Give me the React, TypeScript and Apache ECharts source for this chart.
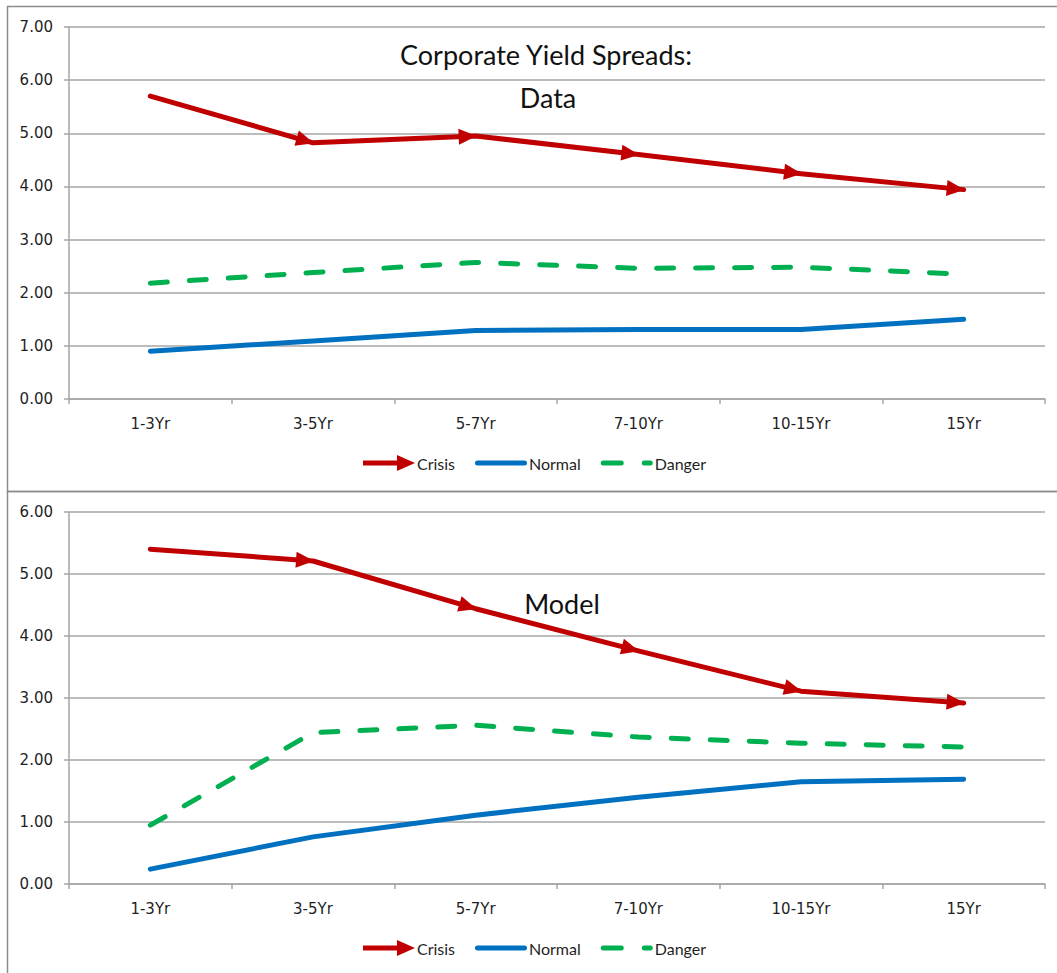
import React, { useEffect, useRef } from "react";
import * as echarts from "echarts";

// Maturity buckets shared by both panels
const categories = ["1-3Yr", "3-5Yr", "5-7Yr", "7-10Yr", "10-15Yr", "15Yr"];

// Observed spreads (upper panel)
const dataCrisis = [5.7, 4.82, 4.95, 4.6, 4.24, 3.94];
const dataNormal = [0.9, 1.09, 1.29, 1.31, 1.31, 1.5];
const dataDanger = [2.18, 2.38, 2.57, 2.46, 2.48, 2.35];

// Model spreads (lower panel)
const modelCrisis = [5.4, 5.21, 4.44, 3.76, 3.11, 2.92];
const modelNormal = [0.24, 0.76, 1.11, 1.4, 1.65, 1.69];
const modelDanger = [0.95, 2.44, 2.56, 2.37, 2.27, 2.21];

const dataAxisMax = 7;
const modelAxisMax = 6;

const RED = "#C00000";
const BLUE = "#0070C0";
const GREEN = "#00B050";
const GRID_GREY = "#A6A6A6";
const TEXT = "#1f1f1f";

// Legend glyphs drawn in a 52x16 box
const arrowIcon = "path://M0,5.5L34,5.5L34,0L52,8L34,16L34,10.5L0,10.5Z";
const barIcon =
  "path://M2.5,5.5L49.5,5.5A2.5,2.5 0 0 1 49.5,10.5L2.5,10.5A2.5,2.5 0 0 1 2.5,5.5Z" +
  "M0,0L0.01,0ZM52,16L51.99,16Z";
const dashIcon =
  "path://M2.5,5.5L20.5,5.5A2.5,2.5 0 0 1 20.5,10.5L2.5,10.5A2.5,2.5 0 0 1 2.5,5.5Z" +
  "M43.5,5.5L49.5,5.5A2.5,2.5 0 0 1 49.5,10.5L43.5,10.5A2.5,2.5 0 0 1 43.5,5.5Z" +
  "M0,0L0.01,0ZM52,16L51.99,16Z";

const ARROW_W = 16;
const ARROW_L = 18;

function crisisSeries(values: number[], idx: number) {
  return {
    name: "Crisis",
    type: "line",
    xAxisIndex: idx,
    yAxisIndex: idx,
    data: values,
    symbol: "none",
    showAllSymbol: true,
    lineStyle: { color: RED, width: 5, cap: "round", join: "round" },
    itemStyle: { color: RED, borderWidth: 0 },
    z: 3,
  };
}

function normalSeries(values: number[], idx: number) {
  return {
    name: "Normal",
    type: "line",
    xAxisIndex: idx,
    yAxisIndex: idx,
    data: values,
    symbol: "none",
    lineStyle: { color: BLUE, width: 5, cap: "round", join: "round" },
    itemStyle: { color: BLUE, borderWidth: 0 },
    z: 2,
  };
}

function dangerSeries(values: number[], idx: number) {
  return {
    name: "Danger",
    type: "line",
    xAxisIndex: idx,
    yAxisIndex: idx,
    data: values,
    symbol: "none",
    lineStyle: { color: GREEN, width: 5, type: [17, 22], cap: "round", join: "round" },
    itemStyle: { color: GREEN, borderWidth: 0 },
    z: 2,
  };
}

function xAxisFor(idx: number) {
  return {
    type: "category",
    gridIndex: idx,
    data: categories,
    boundaryGap: true,
    axisLine: { lineStyle: { color: GRID_GREY, width: 1.5 } },
    axisTick: { show: true, length: 5, lineStyle: { color: GRID_GREY, width: 1.5 } },
    axisLabel: { color: TEXT, fontFamily: "DejaVu Sans", fontSize: 15, margin: 17 },
  };
}

function yAxisFor(idx: number, max: number) {
  return {
    type: "value",
    gridIndex: idx,
    min: 0,
    max,
    interval: 1,
    axisLine: { show: true, lineStyle: { color: GRID_GREY, width: 1.5 } },
    axisTick: { show: true, length: 5, lineStyle: { color: GRID_GREY, width: 1.5 } },
    splitLine: { show: true, lineStyle: { color: GRID_GREY, width: 1.5 } },
    axisLabel: {
      color: TEXT,
      fontFamily: "DejaVu Sans",
      fontSize: 15,
      margin: 16,
      formatter: (v: number) => v.toFixed(2),
    },
  };
}

function legendFor(top: number) {
  return {
    left: 363,
    top,
    padding: 0,
    itemWidth: 52,
    itemHeight: 16,
    itemGap: 20,
    itemStyle: { borderWidth: 0 },
    textStyle: { color: TEXT, fontFamily: "Lato", fontSize: 16, padding: [0, 0, 0, -3] },
    data: [
      { name: "Crisis", icon: arrowIcon },
      { name: "Normal", icon: barIcon },
      { name: "Danger", icon: dashIcon },
    ],
  };
}

function titleText(text: string, x: number, y: number) {
  return {
    type: "text",
    silent: true,
    x,
    y,
    style: {
      text,
      fontFamily: "Lato",
      fontSize: 27,
      fill: "#111",
      align: "center",
      verticalAlign: "middle",
    },
  };
}

export default function App() {
  const ref = useRef<HTMLDivElement>(null);

  useEffect(() => {
    if (!ref.current) return;
    const chart = echarts.init(ref.current, undefined, { renderer: "svg" });
    chart.setOption({
      animation: false,
      backgroundColor: "#ffffff",
      grid: [
        { left: 69, top: 27, width: 976, height: 372 },
        { left: 69, top: 512, width: 976, height: 372 },
      ],
      xAxis: [xAxisFor(0), xAxisFor(1)],
      yAxis: [yAxisFor(0, dataAxisMax), yAxisFor(1, modelAxisMax)],
      legend: [legendFor(455), legendFor(940)],
      series: [
        crisisSeries(dataCrisis, 0),
        normalSeries(dataNormal, 0),
        dangerSeries(dataDanger, 0),
        crisisSeries(modelCrisis, 1),
        normalSeries(modelNormal, 1),
        dangerSeries(modelDanger, 1),
      ],
      graphic: [
        {
          type: "rect",
          silent: true,
          shape: { x: 7.5, y: 6.5, width: 1070, height: 485 },
          style: { fill: "none", stroke: "#8c8c8c", lineWidth: 1.5 },
        },
        {
          type: "rect",
          silent: true,
          shape: { x: 7.5, y: 491.5, width: 1070, height: 500 },
          style: { fill: "none", stroke: "#8c8c8c", lineWidth: 1.5 },
        },
        titleText("Corporate Yield Spreads:", 546, 54),
        titleText("Data", 548, 97),
        titleText("Model", 562, 603),
      ],
    });

    // Arrowheads on the Crisis lines: each point after the first gets a
    // triangle aligned with the incoming segment, tip resting on the point.
    const withArrows = (values: number[], gridIndex: number) => {
      const px = values.map((v, i) => chart.convertToPixel({ gridIndex }, [i, v]) as number[]);
      return values.map((v, i) => {
        if (i === 0) return { value: v, symbol: "none" };
        const dx = px[i][0] - px[i - 1][0];
        const dy = px[i][1] - px[i - 1][1];
        const len = Math.hypot(dx, dy) || 1;
        const rot = (Math.atan2(-dy, dx) * 180) / Math.PI - 90;
        const back = ARROW_L / 2 - 1;
        return {
          value: v,
          symbol: "triangle",
          symbolSize: [ARROW_W, ARROW_L],
          symbolRotate: rot,
          symbolOffset: [(-dx / len) * back, (-dy / len) * back],
        };
      });
    };

    chart.setOption({
      series: [
        { data: withArrows(dataCrisis, 0) },
        {},
        {},
        { data: withArrows(modelCrisis, 1) },
        {},
        {},
      ],
    });

    return () => chart.dispose();
  }, []);

  return (
    <div
      ref={ref}
      style={{ position: "fixed", left: 0, top: 0, width: 1057, height: 973, background: "#fff" }}
    />
  );
}
